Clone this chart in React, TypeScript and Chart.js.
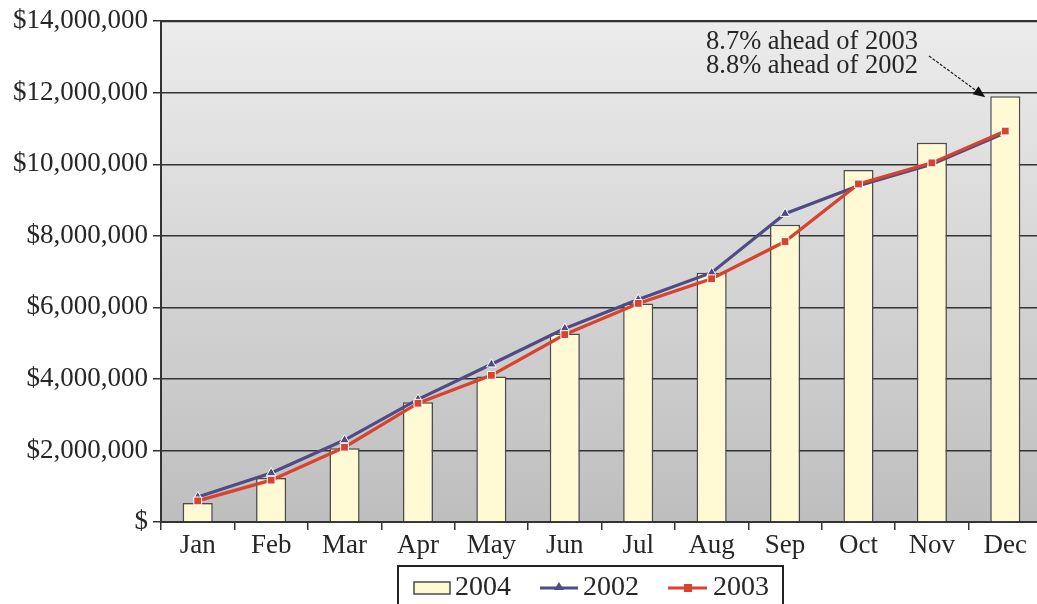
import { useEffect, useRef } from "react";
import { Chart, registerables } from "chart.js";

Chart.register(...registerables);

const months = ["Jan", "Feb", "Mar", "Apr", "May", "Jun", "Jul", "Aug", "Sep", "Oct", "Nov", "Dec"];
const sales2004 = [530000, 1230000, 2060000, 3350000, 4070000, 5270000, 6110000, 6970000, 8310000, 9840000, 10600000, 11900000];
const sales2002 = [700000, 1370000, 2290000, 3430000, 4410000, 5410000, 6220000, 6970000, 8620000, 9400000, 10000000, 10880000];
const sales2003 = [590000, 1170000, 2090000, 3320000, 4100000, 5240000, 6110000, 6800000, 7840000, 9450000, 10040000, 10930000];
const seriesLabels = ["2004", "2002", "2003"];
const annotationLines = ["8.7% ahead of 2003", "8.8% ahead of 2002"];

const FONT = '"Liberation Serif", "Times New Roman", serif';
const TEXT = "#262626";
const BAR_FILL = "#fffad4";
const BAR_BORDER = "#4a4a4a";
const C2002 = "#4f4b86";
const C2003 = "#d8432e";

const bgPlugin = {
  id: "bgPlugin",
  beforeDraw(chart: any) {
    const { ctx, chartArea, width, height } = chart;
    ctx.save();
    ctx.fillStyle = "#ffffff";
    ctx.fillRect(0, 0, width, height);
    const g = ctx.createLinearGradient(0, chartArea.top, 0, chartArea.bottom);
    g.addColorStop(0, "#ececec");
    g.addColorStop(1, "#bebebe");
    ctx.fillStyle = g;
    ctx.fillRect(chartArea.left, chartArea.top, chartArea.right - chartArea.left, chartArea.bottom - chartArea.top);
    ctx.restore();
  },
};

const frameAnnotLegend = {
  id: "frameAnnotLegend",
  afterDraw(chart: any) {
    const { ctx, chartArea } = chart;
    ctx.save();
    // frame
    ctx.strokeStyle = "#333";
    ctx.lineWidth = 2;
    ctx.beginPath();
    ctx.moveTo(chartArea.left, chartArea.top);
    ctx.lineTo(chartArea.right, chartArea.top);
    ctx.lineTo(chartArea.right, chartArea.bottom);
    ctx.stroke();

    // annotation
    ctx.fillStyle = TEXT;
    ctx.font = `26.5px ${FONT}`;
    ctx.textBaseline = "middle";
    ctx.textAlign = "left";
    ctx.fillText(annotationLines[0], 706, 42);
    ctx.fillText(annotationLines[1], 706, 66);
    const xs = chart.scales.x;
    const ys = chart.scales.y;
    const last = months.length - 1;
    const tx = xs.getPixelForValue(last) - 20;
    const ty = ys.getPixelForValue(sales2004[last]) + 1;
    const sx = 929, sy = 56;
    const ang = Math.atan2(ty - sy, tx - sx);
    ctx.strokeStyle = "#222";
    ctx.lineWidth = 1.2;
    ctx.setLineDash([3, 1.5]);
    ctx.beginPath();
    ctx.moveTo(sx, sy);
    ctx.lineTo(tx - 8 * Math.cos(ang), ty - 8 * Math.sin(ang));
    ctx.stroke();
    ctx.setLineDash([]);
    ctx.fillStyle = "#111";
    ctx.beginPath();
    ctx.moveTo(tx, ty);
    ctx.lineTo(tx - 12 * Math.cos(ang) + 5 * Math.sin(ang), ty - 12 * Math.sin(ang) - 5 * Math.cos(ang));
    ctx.lineTo(tx - 12 * Math.cos(ang) - 5 * Math.sin(ang), ty - 12 * Math.sin(ang) + 5 * Math.cos(ang));
    ctx.closePath();
    ctx.fill();

    // legend
    const lx = 398, ly = 566, lw = 385, lh = 50;
    ctx.strokeStyle = "#222";
    ctx.lineWidth = 2;
    ctx.strokeRect(lx, ly, lw, lh);
    const cy = 588;
    ctx.font = `28px ${FONT}`;
    ctx.textBaseline = "middle";
    // 2004
    ctx.fillStyle = BAR_FILL;
    ctx.fillRect(414, 582, 36, 12);
    ctx.strokeStyle = BAR_BORDER;
    ctx.lineWidth = 1.5;
    ctx.strokeRect(414, 582, 36, 12);
    ctx.fillStyle = TEXT;
    ctx.fillText(seriesLabels[0], 455, cy);
    // 2002
    ctx.strokeStyle = C2002;
    ctx.lineWidth = 3;
    ctx.beginPath();
    ctx.moveTo(540, cy);
    ctx.lineTo(578, cy);
    ctx.stroke();
    ctx.fillStyle = C2002;
    ctx.beginPath();
    ctx.moveTo(559, cy - 6);
    ctx.lineTo(564, cy + 2);
    ctx.lineTo(554, cy + 2);
    ctx.closePath();
    ctx.fill();
    ctx.fillStyle = TEXT;
    ctx.fillText(seriesLabels[1], 583, cy);
    // 2003
    ctx.strokeStyle = C2003;
    ctx.lineWidth = 3;
    ctx.beginPath();
    ctx.moveTo(668, cy);
    ctx.lineTo(707, cy);
    ctx.stroke();
    ctx.fillStyle = C2003;
    ctx.fillRect(684, cy - 4, 8, 8);
    ctx.fillStyle = TEXT;
    ctx.fillText(seriesLabels[2], 713, cy);
    ctx.restore();
  },
};

export default function App() {
  const ref = useRef<HTMLCanvasElement | null>(null);
  useEffect(() => {
    if (!ref.current) return;
    const chart = new Chart(ref.current, {
      type: "bar",
      data: {
        labels: months,
        datasets: [
          {
            type: "bar",
            label: seriesLabels[0],
            data: sales2004,
            backgroundColor: BAR_FILL,
            borderColor: BAR_BORDER,
            borderWidth: 1.5,
            barPercentage: 0.41,
            categoryPercentage: 1,
            order: 3,
          },
          {
            type: "line",
            label: seriesLabels[1],
            data: sales2002,
            borderColor: C2002,
            backgroundColor: C2002,
            borderWidth: 3.2,
            pointStyle: "triangle",
            pointRadius: 5.5,
            pointBorderColor: "#ffffff",
            pointBorderWidth: 1,
            tension: 0,
            order: 2,
          } as any,
          {
            type: "line",
            label: seriesLabels[2],
            data: sales2003,
            borderColor: C2003,
            backgroundColor: C2003,
            borderWidth: 3.2,
            pointStyle: "rect",
            pointRadius: 5.5,
            pointBorderColor: "#ffffff",
            pointBorderWidth: 1,
            tension: 0,
            order: 1,
          } as any,
        ],
      },
      options: {
        responsive: false,
        animation: false,
        layout: { padding: { left: 0, right: 8, top: 20, bottom: 58 } },
        plugins: { legend: { display: false }, tooltip: { enabled: false } },
        scales: {
          x: {
            offset: true,
            afterFit: (s: any) => { s.height = 40; },
            grid: { drawOnChartArea: false, drawTicks: true, tickLength: 8, color: "#333", lineWidth: 1.5, offset: true },
            border: { display: true, color: "#333", width: 2 },
            ticks: { color: TEXT, font: { family: FONT, size: 27 }, padding: 0 },
          },
          y: {
            min: 0,
            max: 14000000,
            afterFit: (s: any) => { s.width = 161; },
            grid: { color: "#333", lineWidth: 1.5, tickLength: 8 },
            border: { display: true, color: "#333", width: 2 },
            ticks: {
              stepSize: 2000000,
              color: TEXT,
              padding: 5,
              font: { family: FONT, size: 27 },
              callback: (v: any) => (Number(v) === 0 ? "$" : "$" + Number(v).toLocaleString("en-US")),
            },
          },
        },
      },
      plugins: [bgPlugin, frameAnnotLegend],
    });
    return () => chart.destroy();
  }, []);
  return (
    <div style={{ position: "fixed", left: 0, top: 0, width: 1037, height: 604, overflow: "hidden" }}>
      <canvas ref={ref} width={1050} height={620} style={{ display: "block" }} />
    </div>
  );
}
